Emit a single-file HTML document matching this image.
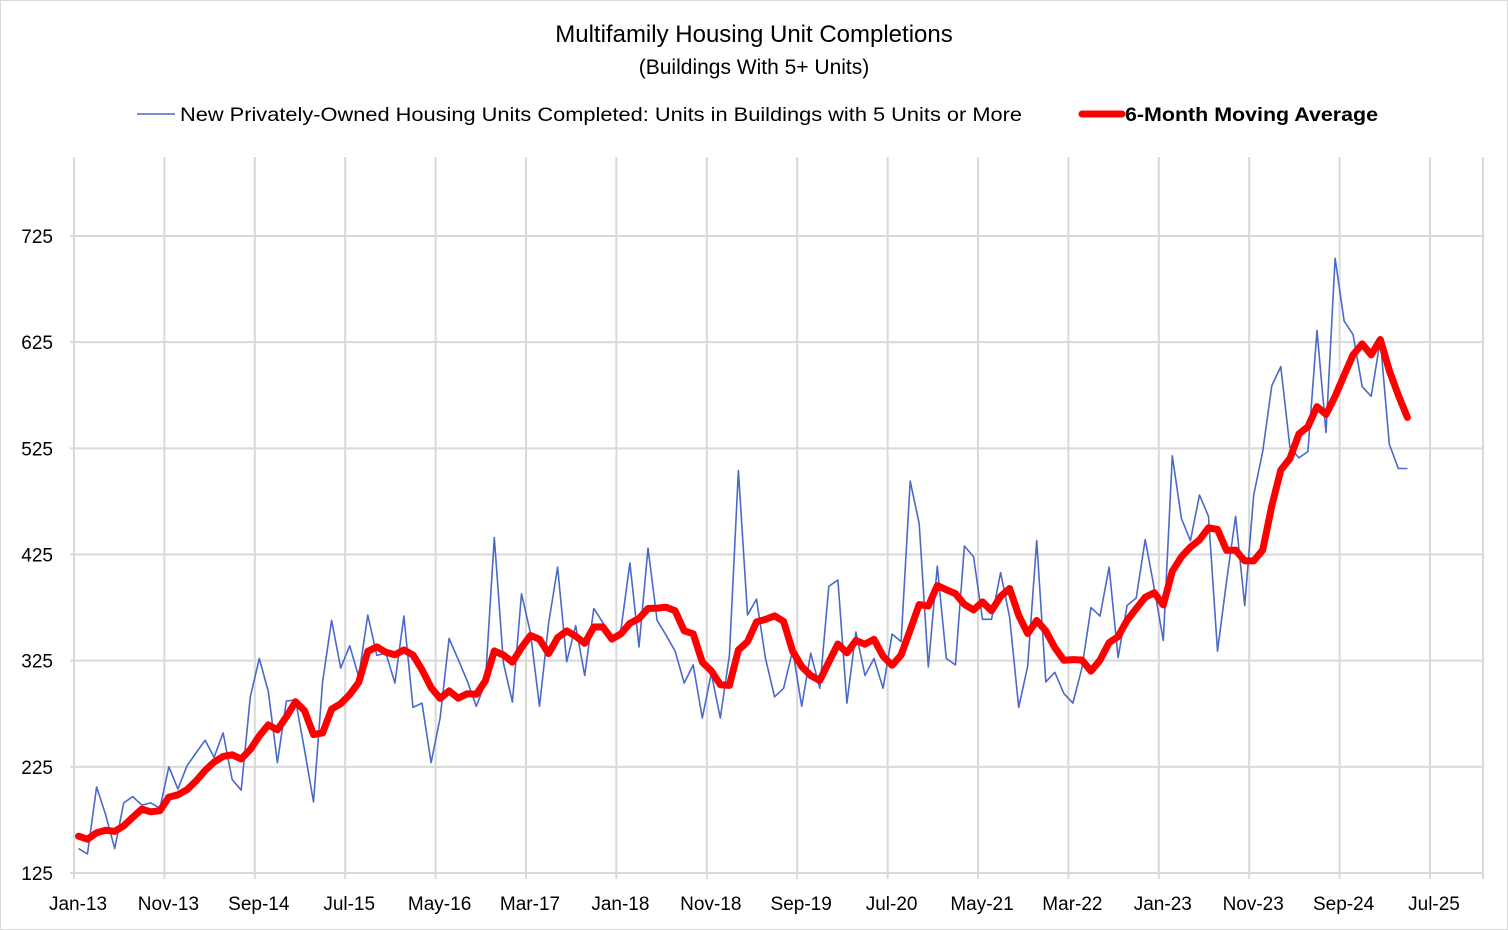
<!DOCTYPE html>
<html><head><meta charset="utf-8"><style>
html,body{margin:0;padding:0;background:#fff;}
svg{display:block;font-family:"Liberation Sans",sans-serif;}
</style></head><body>
<svg id="chart" width="1508" height="930" xmlns="http://www.w3.org/2000/svg">
<rect x="0.5" y="0.5" width="1507" height="929" fill="#fff" stroke="#d9d9d9"/>
<text x="754" y="42" text-anchor="middle" font-size="24" fill="#000">Multifamily Housing Unit Completions</text>
<text x="754" y="74" text-anchor="middle" font-size="21" fill="#000">(Buildings With 5+ Units)</text>
<g>
<line x1="137" y1="114" x2="175" y2="114" stroke="#4a69c9" stroke-width="1.5"/>
<text x="180" y="121" font-size="19.5" textLength="842" lengthAdjust="spacingAndGlyphs">New Privately-Owned Housing Units Completed: Units in Buildings with 5 Units or More</text>
<line x1="1082" y1="114" x2="1122" y2="114" stroke="#ff0000" stroke-width="7" stroke-linecap="round"/>
<text x="1125" y="121" font-size="19.5" font-weight="bold" textLength="253" lengthAdjust="spacingAndGlyphs">6-Month Moving Average</text>
</g>
<g id="grid"></g><g id="axes"></g><g id="series"></g>
</svg>
<script>
const xTickLabels=["Jan-13","Nov-13","Sep-14","Jul-15","May-16","Mar-17","Jan-18","Nov-18","Sep-19","Jul-20","May-21","Mar-22","Jan-23","Nov-23","Sep-24","Jul-25"];
const yTicks=[125,225,325,425,525,625,725];
const priorValues=[160,170,165,155,160];
const completions=[148,143,206,180,148,191,197,189,191,186,225,204,226,238,250,234,257,213,203,291,
327,296,229,287,288,241,192,305,363,318,339,310,368,330,332,304,367,281,285,229,
271,346,326,306,282,304,441,323,286,388,351,282,360,413,324,358,311,374,361,344,
354,417,338,431,363,349,334,304,321,271,313,271,330,504,368,383,327,291,299,335,
282,332,299,395,401,285,352,311,327,299,350,343,494,454,319,414,327,321,433,423,
364,364,408,366,281,320,438,305,314,294,285,318,375,367,413,328,377,384,439,393,
344,518,459,438,481,461,334,400,461,377,481,522,584,602,526,516,522,636,540,704,
645,632,583,574,627,529,506,506];
const NS="http://www.w3.org/2000/svg";
const L=74,R=1430,T=157,B=873,PR=1483;
const yMin=125,yMax=799.4;
const yS=v=>B-(v-yMin)/(yMax-yMin)*(B-T);
const monthStep=(R-L)/150;
const xS=i=>L+4.5+i*monthStep;
function mk(tag,attrs,parent){const e=document.createElementNS(NS,tag);for(const k in attrs)e.setAttribute(k,attrs[k]);parent.appendChild(e);return e;}
const grid=document.getElementById('grid'),axes=document.getElementById('axes'),ser=document.getElementById('series');
yTicks.forEach(v=>{
 const g=mk('line',{x1:70,x2:PR,y1:yS(v),y2:yS(v),stroke:'#d9d9d9','stroke-width':2},grid);
 
 
 const t=mk('text',{x:53,y:yS(v)+7,'text-anchor':'end','font-size':19},axes);t.textContent=v;
 
 
});
xTickLabels.forEach((lab,k)=>{
 const x=L+k*10*monthStep;
 const g=mk('line',{x1:x,x2:x,y1:T,y2:B+6,stroke:'#d9d9d9','stroke-width':2},grid);
 
 
 const t=mk('text',{x:x+4,y:910,'text-anchor':'middle','font-size':19},axes);t.textContent=lab;
 
 
});
const rg=mk('line',{x1:PR,x2:PR,y1:T,y2:B+6,stroke:'#d9d9d9','stroke-width':2},grid);


const all=priorValues.concat(completions);
const ma=completions.map((v,i)=>{let s=0;for(let j=i;j<i+6;j++)s+=all[j];return s/6;});
const pts=a=>a.map((v,i)=>xS(i).toFixed(1)+','+yS(v).toFixed(1)).join(' ');
const bl=mk('polyline',{points:pts(completions),fill:'none',stroke:'#4a69c9','stroke-width':1.6,'stroke-linejoin':'round'},ser);


const rl=mk('polyline',{points:pts(ma),fill:'none',stroke:'#ff0000','stroke-width':7,'stroke-linejoin':'round','stroke-linecap':'round'},ser);


</script>
</body></html>
